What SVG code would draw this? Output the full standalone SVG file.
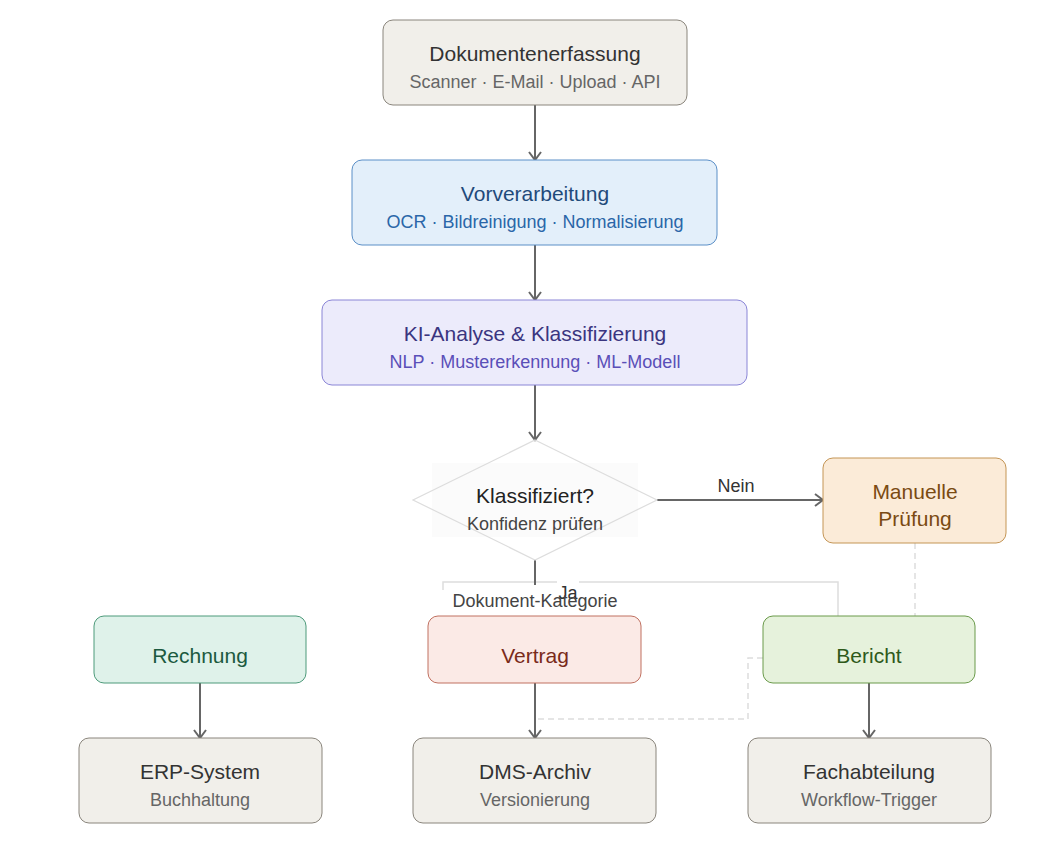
<svg xmlns="http://www.w3.org/2000/svg" width="1040" height="847" viewBox="0 0 1040 847">
<defs>
<marker id="arr" markerWidth="14" markerHeight="14" refX="11" refY="7" orient="auto" markerUnits="userSpaceOnUse">
<path d="M3,1 L11,7 L3,13" fill="none" stroke="#666" stroke-width="2"/>
</marker>
<style>
text{font-family:"Liberation Sans",Arial,sans-serif;text-anchor:middle}
.t{font-size:21px}
.s{font-size:18px}
.edge{stroke:#666;stroke-width:2;fill:none}
.light{stroke:#ddd;stroke-width:1.5;fill:none}
.dash{stroke:#ddd;stroke-width:1.5;fill:none;stroke-dasharray:6 4}
.gray rect{fill:#f1efea;stroke:#8a857c;stroke-width:1}
.gray .t{fill:#333}
.gray .s{fill:#666}
</style>
</defs>
<rect width="1040" height="847" fill="#fff"/>
<g id="connectors">
<line class="edge" x1="535" y1="105" x2="535" y2="160" marker-end="url(#arr)"/>
<line class="edge" x1="535" y1="245" x2="535" y2="300" marker-end="url(#arr)"/>
<line class="edge" x1="535" y1="385" x2="535" y2="440" marker-end="url(#arr)"/>
<line class="edge" x1="657" y1="500" x2="823" y2="500" marker-end="url(#arr)"/>
<text class="s" x="736" y="492" fill="#333">Nein</text>
<path class="light" d="M443,590 L443,582 L557,582 M579,582 L838,582 L838,616"/>
<line class="edge" x1="535" y1="560" x2="535" y2="585"/>
<text class="s" x="568" y="599" fill="#333">Ja</text>
<line class="edge" x1="200" y1="683" x2="200" y2="738" marker-end="url(#arr)"/>
<line class="edge" x1="535" y1="683" x2="535" y2="738" marker-end="url(#arr)"/>
<line class="edge" x1="869" y1="683" x2="869" y2="738" marker-end="url(#arr)"/>
<path class="dash" d="M915,543 L915,616"/>
<path class="dash" d="M763,658 L748,658 L748,719 L537,719"/>
</g>
<g id="cluster-label"><text class="s" x="535" y="607" fill="#444">Dokument-Kategorie</text></g>
<g id="n-erfassung" class="gray">
<rect x="383" y="20" width="304" height="85" rx="10"/>
<text class="t" x="535" y="61">Dokumentenerfassung</text>
<text class="s" x="535" y="88">Scanner · E-Mail · Upload · API</text>
</g>
<g id="n-vorverarbeitung">
<rect x="352" y="160" width="365" height="85" rx="10" fill="#e3effa" stroke="#5b8fc7"/>
<text class="t" x="535" y="201" fill="#1f4a7a">Vorverarbeitung</text>
<text class="s" x="535" y="228" fill="#2a66a8">OCR · Bildreinigung · Normalisierung</text>
</g>
<g id="n-ki">
<rect x="322" y="300" width="425" height="85" rx="10" fill="#ecebfb" stroke="#8a85d6"/>
<text class="t" x="535" y="341" fill="#3a3580">KI-Analyse &amp; Klassifizierung</text>
<text class="s" x="535" y="368" fill="#5a4fb8">NLP · Mustererkennung · ML-Modell</text>
</g>
<g id="n-decision">
<rect x="432" y="463" width="206" height="74" fill="#fbfbfb"/>
<polygon points="535,440 657,500 535,560 413,500" fill="none" stroke="#ddd" stroke-width="1.2"/>
<text class="t" x="535" y="503" fill="#222">Klassifiziert?</text>
<text class="s" x="535" y="530" fill="#444">Konfidenz prüfen</text>
</g>
<g id="n-manuell">
<rect x="823" y="458" width="183" height="85" rx="10" fill="#fbebd8" stroke="#c49555"/>
<text class="t" x="915" y="499" fill="#7a4a12">Manuelle</text>
<text class="t" x="915" y="526" fill="#7a4a12">Prüfung</text>
</g>
<g id="n-rechnung">
<rect x="94" y="616" width="212" height="67" rx="10" fill="#dff2ea" stroke="#4d9a7a"/>
<text class="t" x="200" y="663" fill="#1c5a40">Rechnung</text>
</g>
<g id="n-vertrag">
<rect x="428" y="616" width="213" height="67" rx="10" fill="#fbeae6" stroke="#c07060"/>
<text class="t" x="535" y="663" fill="#7a2a1a">Vertrag</text>
</g>
<g id="n-bericht">
<rect x="763" y="616" width="212" height="67" rx="10" fill="#e6f2dc" stroke="#6a9a4a"/>
<text class="t" x="869" y="663" fill="#2e5a1a">Bericht</text>
</g>
<g id="n-erp" class="gray">
<rect x="79" y="738" width="243" height="85" rx="10"/>
<text class="t" x="200" y="779">ERP-System</text>
<text class="s" x="200" y="806">Buchhaltung</text>
</g>
<g id="n-dms" class="gray">
<rect x="413" y="738" width="243" height="85" rx="10"/>
<text class="t" x="535" y="779">DMS-Archiv</text>
<text class="s" x="535" y="806">Versionierung</text>
</g>
<g id="n-fach" class="gray">
<rect x="748" y="738" width="243" height="85" rx="10"/>
<text class="t" x="869" y="779">Fachabteilung</text>
<text class="s" x="869" y="806">Workflow-Trigger</text>
</g>
</svg>
